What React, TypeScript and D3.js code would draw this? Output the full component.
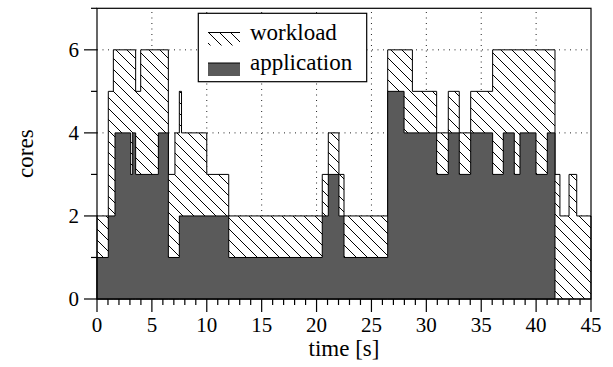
import React, { useEffect, useRef } from 'react';
import * as d3 from 'd3';

// step series: value holds from time[i] until time[i + 1]
const workloadTime = [0, 1.03, 1.49, 3.52, 3.98, 6.5, 7.1, 7.5, 7.7, 10, 12, 20.52, 21.07, 22.04, 22.5, 26.48, 28.73, 30.94, 32, 33, 34.04, 36.04, 41.72, 42.17, 43, 43.7, 45];
const workloadCores = [2, 5, 6, 5, 6, 3, 4, 5, 4, 3, 2, 3, 4, 3, 2, 6, 5, 4, 5, 4, 5, 6, 3, 2, 3, 2, 2];

const appTime = [0, 1.03, 1.64, 3.07, 3.25, 3.52, 5.59, 6.5, 7.5, 12, 20.52, 21.07, 22.04, 22.5, 26.48, 27.97, 30.94, 32, 33, 34.04, 36.04, 37.01, 38.01, 38.53, 39.99, 41.02, 41.72];
const appCores = [1, 2, 4, 3, 4, 3, 4, 1, 2, 1, 2, 3, 2, 1, 5, 4, 3, 4, 3, 4, 3, 4, 3, 4, 3, 4, 0];

const xTicks = [0, 5, 10, 15, 20, 25, 30, 35, 40, 45];
const yTicks = [0, 2, 4, 6];
const legendLabels = ['workload', 'application'];

const FONT = 'Liberation Serif';
const DARK = '#5a5a5a';

function App() {
  const ref = useRef<SVGSVGElement>(null);

  useEffect(() => {
    document.body.style.margin = '0';
    const svg = d3.select(ref.current);
    svg.selectAll('*').remove();

    const x = d3.scaleLinear().domain([0, 45]).range([97, 591]);
    const y = d3.scaleLinear().domain([0, 7]).range([299, 8.3]);

    // hatch pattern
    const defs = svg.append('defs');
    const pat = defs.append('pattern')
      .attr('id', 'hatch')
      .attr('patternUnits', 'userSpaceOnUse')
      .attr('width', 11)
      .attr('height', 11);
    pat.append('rect').attr('width', 11).attr('height', 11).attr('fill', 'white');
    pat.append('path')
      .attr('d', 'M0,0 L11,11 M-2,9 L2,13 M9,-2 L13,2')
      .attr('stroke', 'black')
      .attr('stroke-width', 1);

    // grid
    const grid = svg.append('g').attr('stroke', '#222').attr('stroke-width', 1)
      .attr('stroke-dasharray', '1 4.5');
    xTicks.slice(1, -1).forEach(t => {
      grid.append('line').attr('x1', x(t)).attr('x2', x(t)).attr('y1', y(0)).attr('y2', y(7));
    });
    yTicks.slice(1).forEach(v => {
      grid.append('line').attr('x1', x(0)).attr('x2', x(45)).attr('y1', y(v)).attr('y2', y(v));
    });

    const area = d3.area<[number, number]>()
      .x(d => x(d[0]))
      .y0(y(0))
      .y1(d => y(d[1]))
      .curve(d3.curveStepAfter);

    const workload = workloadTime.map((t, i) => [t, workloadCores[i]] as [number, number]);
    const app = appTime.map((t, i) => [t, appCores[i]] as [number, number]);

    svg.append('path')
      .attr('d', area(workload))
      .attr('fill', 'url(#hatch)')
      .attr('stroke', 'black')
      .attr('stroke-width', 1);

    svg.append('path')
      .attr('d', area(app))
      .attr('fill', DARK)
      .attr('stroke', 'black')
      .attr('stroke-width', 1);

    // frame
    svg.append('rect')
      .attr('x', x(0)).attr('y', y(7))
      .attr('width', x(45) - x(0)).attr('height', y(0) - y(7))
      .attr('fill', 'none').attr('stroke', 'black').attr('stroke-width', 1.2);

    // ticks
    const ax = svg.append('g').attr('stroke', 'black').attr('stroke-width', 1.2);
    d3.range(0, 46).forEach(t => {
      const major = t % 5 === 0;
      ax.append('line').attr('x1', x(t)).attr('x2', x(t))
        .attr('y1', y(0)).attr('y2', y(0) + (major ? 13 : 6));
    });
    d3.range(0, 8).forEach(v => {
      const major = v % 2 === 0;
      ax.append('line').attr('y1', y(v)).attr('y2', y(v))
        .attr('x1', x(0)).attr('x2', x(0) - (major ? 13 : 6));
    });

    const txt = svg.append('g').attr('font-family', FONT);

    txt.append('g').selectAll('text').data(xTicks).join('text')
      .attr('x', d => x(d)).attr('y', 332)
      .attr('text-anchor', 'middle')
      .attr('font-size', 21)
      .text(d => d);

    txt.append('g').selectAll('text').data(yTicks).join('text')
      .attr('x', 79).attr('y', d => y(d) + 7)
      .attr('text-anchor', 'end')
      .attr('font-size', 21)
      .text(d => d);

    txt.append('text')
      .attr('x', (x(0) + x(45)) / 2).attr('y', 356)
      .attr('text-anchor', 'middle')
      .attr('font-size', 23)
      .text('time [s]');

    txt.append('text')
      .attr('transform', `translate(33,${(y(0) + y(7)) / 2}) rotate(-90)`)
      .attr('text-anchor', 'middle')
      .attr('font-size', 23)
      .text('cores');

    // legend
    const lg = svg.append('g');
    lg.append('rect').attr('x', 198.3).attr('y', 13.3).attr('width', 168.4).attr('height', 68.4)
      .attr('fill', 'white').attr('stroke', 'black').attr('stroke-width', 1.2);
    const fills = ['url(#hatch)', DARK];
    const rowY = [32.5, 63];
    legendLabels.forEach((label, i) => {
      lg.append('rect').attr('x', 208).attr('y', rowY[i]).attr('width', 32).attr('height', 13)
        .attr('fill', fills[i]);
      lg.append('line').attr('x1', 208).attr('x2', 240).attr('y1', rowY[i]).attr('y2', rowY[i])
        .attr('stroke', 'black').attr('stroke-width', 1);
      lg.append('text').attr('x', 250).attr('y', rowY[i] + 7)
        .attr('font-family', FONT).attr('font-size', 23)
        .text(label);
    });
  }, []);

  return <svg ref={ref} width={613} height={367} style={{ display: 'block', background: 'white' }} />;
}

export default App;
